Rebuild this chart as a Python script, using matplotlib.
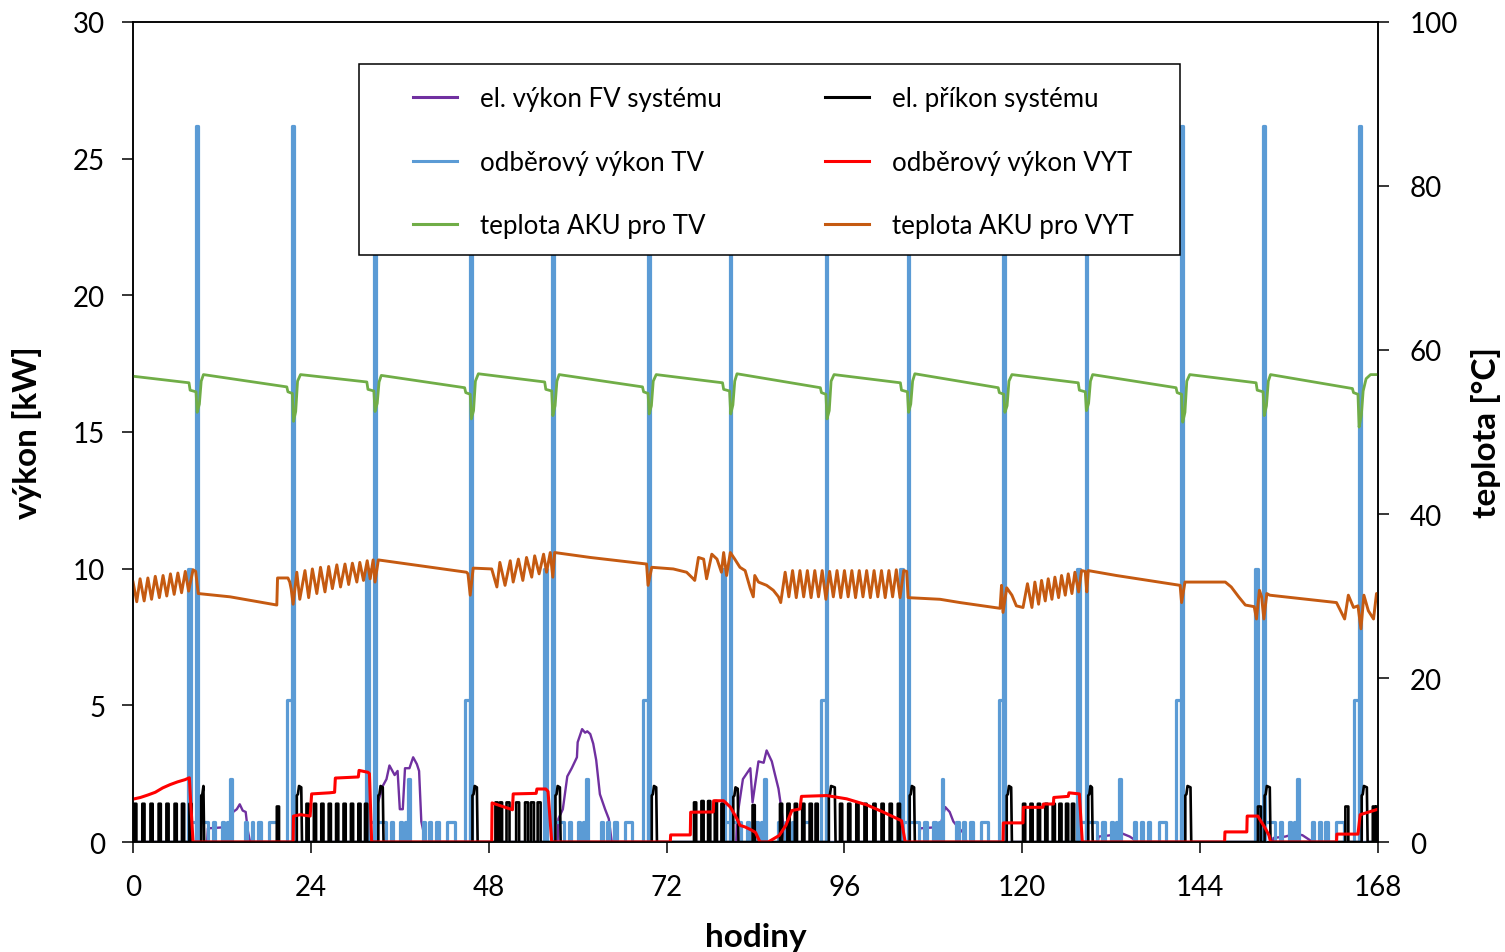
import matplotlib.pyplot as plt
import matplotlib.patches as patches
from matplotlib.lines import Line2D

plt.rcParams['font.family'] = ['Lato', 'DejaVu Sans']

# odberovy vykon TV: (od, do, kW)
tv_draws = [
    (7.45, 7.85, 10.0), (7.85, 8.55, 0.75), (8.55, 8.75, 26.2), (8.75, 10.1, 0.75), (10.8, 11.1, 0.75),
    (12.0, 12.3, 0.75), (12.7, 13.1, 0.75), (13.1, 13.35, 2.3), (15.1, 15.4, 0.75), (16.0, 16.25, 0.75),
    (16.9, 17.3, 0.75), (18.4, 19.4, 0.75), (20.8, 21.45, 5.2), (21.45, 21.7, 26.2),
    (31.45, 31.85, 10.0), (31.85, 32.55, 0.75), (32.55, 32.75, 26.2), (32.75, 34.1, 0.75), (34.8, 35.1, 0.75),
    (36.0, 36.3, 0.75), (36.7, 37.1, 0.75), (37.1, 37.35, 2.3), (39.1, 39.4, 0.75), (40.0, 40.25, 0.75),
    (40.9, 41.3, 0.75), (42.4, 43.4, 0.75), (44.8, 45.45, 5.2), (45.45, 45.7, 26.2),
    (55.45, 55.85, 10.0), (55.85, 56.55, 0.75), (56.55, 56.75, 26.2), (56.75, 58.1, 0.75), (58.8, 59.1, 0.75),
    (60.0, 60.3, 0.75), (60.7, 61.1, 0.75), (61.1, 61.35, 2.3), (63.1, 63.4, 0.75), (64.0, 64.25, 0.75),
    (64.9, 65.3, 0.75), (66.4, 67.4, 0.75), (68.8, 69.45, 5.2), (69.45, 69.7, 26.2),
    (79.45, 79.85, 10.0), (79.85, 80.55, 0.75), (80.55, 80.75, 26.2), (80.75, 82.1, 0.75), (82.8, 83.1, 0.75),
    (84.0, 84.3, 0.75), (84.7, 85.1, 0.75), (85.1, 85.35, 2.3), (87.1, 87.4, 0.75), (88.0, 88.25, 0.75),
    (88.9, 89.3, 0.75), (90.4, 91.4, 0.75), (92.8, 93.45, 5.2), (93.45, 93.7, 26.2),
    (103.45, 103.85, 10.0), (103.85, 104.55, 0.75), (104.55, 104.75, 26.2), (104.75, 106.1, 0.75), (106.8, 107.1, 0.75),
    (108.0, 108.3, 0.75), (108.7, 109.1, 0.75), (109.1, 109.35, 2.3), (111.1, 111.4, 0.75), (112.0, 112.25, 0.75),
    (112.9, 113.3, 0.75), (114.4, 115.4, 0.75), (116.8, 117.45, 5.2), (117.45, 117.7, 26.2),
    (127.45, 127.85, 10.0), (127.85, 128.55, 0.75), (128.55, 128.75, 26.2), (128.75, 130.1, 0.75), (130.8, 131.1, 0.75),
    (132.0, 132.3, 0.75), (132.7, 133.1, 0.75), (133.1, 133.35, 2.3), (135.1, 135.4, 0.75), (136.0, 136.25, 0.75),
    (136.9, 137.3, 0.75), (138.4, 139.4, 0.75), (140.8, 141.45, 5.2), (141.45, 141.7, 26.2),
    (151.45, 151.85, 10.0), (151.85, 152.55, 0.75), (152.55, 152.75, 26.2), (152.75, 154.1, 0.75), (154.8, 155.1, 0.75),
    (156.0, 156.3, 0.75), (156.7, 157.1, 0.75), (157.1, 157.35, 2.3), (159.1, 159.4, 0.75), (160.0, 160.25, 0.75),
    (160.9, 161.3, 0.75), (162.4, 163.4, 0.75), (164.8, 165.45, 5.2), (165.45, 165.7, 26.2),
]

# el. prikon systemu - behy TC (od, do, kW)
hp_runs = [
    (0.15, 0.45, 1.4), (1.25, 1.55, 1.4), (2.35, 2.65, 1.4), (3.45, 3.75, 1.4), (4.5, 4.8, 1.4),
    (5.6, 5.9, 1.4), (6.6, 6.9, 1.4), (7.6, 7.9, 1.4), (19.4, 19.7, 1.3),
    (23.4, 23.7, 1.4), (24.4, 24.7, 1.4), (25.4, 25.7, 1.4), (26.4, 26.7, 1.4), (27.4, 27.7, 1.4),
    (28.4, 28.7, 1.4), (29.4, 29.7, 1.4), (30.4, 30.7, 1.4), (31.3, 31.6, 1.4),
    (48.9, 49.2, 1.45), (49.5, 49.8, 1.45), (50.4, 50.8, 1.45), (51.7, 52.1, 1.45), (52.9, 53.3, 1.45),
    (53.7, 54.1, 1.45), (54.6, 55.0, 1.45),
    (75.7, 76.0, 1.45), (76.7, 77.0, 1.5), (77.6, 77.9, 1.5), (78.5, 78.8, 1.5), (79.4, 79.7, 1.4),
    (83.6, 83.9, 1.35),
    (87.3, 87.6, 1.4), (88.3, 88.6, 1.4), (89.3, 89.6, 1.4), (90.3, 90.6, 1.4), (91.3, 91.6, 1.4),
    (92.1, 92.4, 1.4),
    (95.4, 95.7, 1.4), (96.5, 96.8, 1.4), (97.6, 97.9, 1.4), (98.7, 99.0, 1.4), (99.9, 100.2, 1.4),
    (101.0, 101.3, 1.4), (102.1, 102.4, 1.4), (103.2, 103.5, 1.4),
    (120.1, 120.4, 1.4), (121.1, 121.4, 1.4), (122.1, 122.4, 1.4), (123.1, 123.4, 1.4), (124.1, 124.4, 1.4),
    (125.0, 125.3, 1.4), (125.9, 126.2, 1.4), (126.7, 127.0, 1.4),
    (151.8, 152.2, 1.3), (163.6, 164.0, 1.3), (167.3, 167.6, 1.3), (167.75, 168.0, 1.3),
]

# el. prikon systemu - ohrev TV (od, do, max kW)
hp_tv_runs = [
    (9.2, 9.6, 2.05), (22.1, 22.8, 2.05), (33.1, 33.8, 2.05), (45.8, 46.5, 2.05), (57.0, 57.7, 2.05),
    (70.0, 70.7, 2.05), (81.0, 81.7, 2.0), (93.9, 94.8, 2.05), (104.8, 105.5, 2.05), (117.9, 118.6, 2.05),
    (128.9, 129.5, 2.05), (142.0, 142.8, 2.05), (152.7, 153.5, 2.05), (165.8, 166.6, 2.05),
]

# odberovy vykon VYT (hodiny, kW)
vyt_h = [0, 1.0, 2.0, 3.0, 4.0, 5.0, 6.0, 7.0, 7.6, 7.75, 8.1,
         21.6, 21.65, 22.6, 23.9, 24.1, 26.5, 27.2, 27.3, 30.4, 30.5, 31.7, 31.9, 32.2,
         48.4, 48.45, 51.2, 51.3, 54.4, 54.5, 55.7, 56.0, 56.5,
         72.5, 72.55, 75.2, 75.25, 78.3, 78.35, 79.7, 80.6, 81.5, 81.9, 82.6, 83.5, 84.0, 84.6,
         85.7, 87.2, 88.1, 88.9, 90.0, 90.2, 93.6, 96.3, 99.0, 101.2, 103.7, 104.2,
         117.4, 117.45, 120.1, 120.15, 122.8, 122.85, 124.2, 124.25, 126.2, 126.3, 127.7, 128.1,
         147.3, 147.35, 150.3, 150.35, 151.8, 152.0, 152.8, 153.3, 153.5,
         162.4, 162.45, 165.3, 165.6, 168.0]
vyt_kw = [1.57, 1.63, 1.72, 1.82, 1.98, 2.1, 2.2, 2.28, 2.35, 1.6, 0,
          0, 0.95, 1.0, 0.95, 1.76, 1.8, 1.82, 2.34, 2.38, 2.62, 2.55, 2.5, 0,
          0, 1.43, 1.18, 1.76, 1.78, 1.94, 1.94, 1.85, 0,
          0, 0.26, 0.26, 1.09, 1.1, 1.51, 1.51, 1.28, 0.85, 0.61, 0.55, 0.43, 0.35, 0,
          0, 0.24, 0.61, 1.15, 1.21, 1.67, 1.7, 1.58, 1.36, 1.1, 0.78, 0,
          0, 0.7, 0.7, 1.27, 1.27, 1.39, 1.39, 1.63, 1.67, 1.8, 1.76, 0,
          0, 0.37, 0.37, 0.95, 0.95, 0.85, 0.5, 0.24, 0,
          0, 0.29, 0.29, 1.0, 1.2]

# el. vykon FV systemu (hodiny, kW)
fv_h = [0, 10.0, 10.1, 12.9, 13.2, 13.5, 14.0, 14.4, 14.8, 15.2, 15.5, 15.8,
        32.9, 33.0, 33.7, 34.2, 34.6, 35.3, 35.7, 36.0, 36.4, 36.7, 37.3, 37.8, 38.3, 38.6, 38.9, 39.1, 39.5,
        57.3, 57.4, 58.0, 58.6, 59.2, 59.9, 60.0, 60.6, 61.0, 61.3, 61.7, 62.1, 62.5, 63.0, 63.7, 64.2, 64.6,
        81.4, 81.5, 82.3, 83.3, 83.6, 84.4, 85.1, 85.5, 86.2, 86.6, 87.1, 87.5, 88.0,
        106.1, 106.2, 108.9, 109.6, 110.2, 110.7, 111.3, 112.0, 112.5,
        130.2, 130.3, 132.0, 132.8, 133.6, 134.5, 135.6,
        153.8, 153.9, 155.5, 156.8, 157.8, 159.2, 168.0]
fv_kw = [0, 0, 0.5, 0.55, 0.6, 1.1, 1.2, 1.38, 1.15, 1.1, 0.4, 0,
         0, 1.4, 2.05, 2.3, 2.8, 2.45, 2.6, 1.2, 1.2, 2.7, 2.7, 3.1, 2.85, 2.6, 0.75, 0.5, 0,
         0, 0.85, 1.2, 2.4, 2.7, 3.1, 3.65, 4.13, 4.0, 4.05, 3.95, 3.6, 3.0, 1.75, 1.2, 0.85, 0,
         0, 0.85, 2.3, 2.7, 1.45, 2.95, 2.9, 3.35, 2.95, 2.5, 1.95, 1.2, 0,
         0, 0.5, 0.55, 1.28, 1.1, 0.75, 0.55, 0.35, 0,
         0, 0.2, 0.25, 0.35, 0.3, 0.2, 0,
         0, 0.15, 0.2, 0.3, 0.25, 0, 0]

# teplota AKU pro TV (hodiny, degC)
aku_tv = [
    (0.0, 56.8),
    (7.55, 56.0), (7.7, 55.1), (8.5, 54.9), (8.65, 52.4), (8.95, 53.4), (9.2, 56.2), (9.5, 57.0),
    (20.75, 55.5), (20.9, 54.9), (21.5, 54.7), (21.65, 51.3), (21.95, 52.5), (22.2, 56.2), (22.6, 57.0),
    (31.55, 56.1), (31.7, 55.2), (32.5, 55.0), (32.65, 52.5), (32.95, 53.5), (33.2, 56.1), (33.5, 56.9),
    (44.75, 55.4), (44.9, 54.8), (45.5, 54.6), (45.65, 51.6), (45.95, 52.6), (46.2, 56.2), (46.6, 57.1),
    (55.55, 56.1), (55.7, 55.2), (56.5, 55.0), (56.65, 52.0), (56.95, 53.2), (57.2, 56.2), (57.5, 57.0),
    (68.75, 55.5), (68.9, 54.9), (69.5, 54.7), (69.65, 52.2), (69.95, 53.2), (70.2, 56.2), (70.6, 57.0),
    (79.55, 56.0), (79.7, 55.2), (80.5, 55.0), (80.65, 52.2), (80.95, 53.3), (81.2, 56.2), (81.5, 57.1),
    (92.75, 55.4), (92.9, 54.8), (93.5, 54.6), (93.65, 51.6), (93.95, 52.6), (94.2, 56.2), (94.6, 57.0),
    (103.55, 56.0), (103.7, 55.1), (104.5, 54.9), (104.65, 52.4), (104.95, 53.4), (105.2, 56.2), (105.5, 57.1),
    (116.75, 55.4), (116.9, 54.8), (117.5, 54.6), (117.65, 52.4), (117.95, 53.2), (118.2, 56.2), (118.6, 57.0),
    (127.55, 56.0), (127.7, 55.1), (128.5, 54.9), (128.65, 52.6), (128.95, 53.5), (129.2, 56.2), (129.5, 57.0),
    (140.75, 55.4), (140.9, 54.8), (141.5, 54.6), (141.65, 51.2), (141.95, 52.4), (142.2, 56.2), (142.6, 57.0),
    (151.55, 56.0), (151.7, 55.1), (152.5, 54.9), (152.65, 52.0), (152.95, 53.2), (153.2, 56.2), (153.5, 57.0),
    (164.55, 55.3), (164.7, 54.8), (165.3, 54.6), (165.45, 50.6), (165.75, 52.0), (166.0, 55.0), (166.4, 56.5),
    (167.0, 57.0), (168.0, 57.0),
]

# teplota AKU pro VYT (hodiny, degC)
aku_vyt = [
    (0.0, 31.7), (0.5, 29.3), (0.95, 32.1), (1.5, 29.4), (2.0, 32.2), (2.5, 29.6), (3.0, 32.4), (3.55, 29.8),
    (4.05, 32.5), (4.55, 30.0), (5.05, 32.7), (5.55, 30.2), (6.05, 32.8), (6.55, 30.4), (7.05, 33.0), (7.5, 30.6),
    (8.1, 33.2), (8.45, 33.0), (8.8, 30.3),
    (13.1, 29.9), (19.4, 28.9), (19.5, 32.2), (20.9, 32.2), (21.15, 31.7), (21.35, 30.8), (21.6, 29.0),
    (22.1, 32.9), (22.5, 29.6), (23.2, 33.1), (23.7, 29.8), (24.2, 33.3), (24.8, 30.3), (25.3, 33.5), (25.9, 30.5),
    (26.4, 33.6), (26.9, 30.9), (27.5, 33.8), (28.0, 31.1), (28.6, 33.9), (29.1, 31.4), (29.6, 34.0), (30.2, 31.7),
    (30.6, 34.1), (31.1, 31.9), (31.6, 34.3), (32.0, 32.1), (32.4, 34.4), (32.65, 31.7), (33.1, 34.4),
    (45.0, 32.9), (45.2, 32.7), (45.5, 30.1), (45.9, 33.4), (48.4, 33.3), (49.1, 31.1),
    (49.5, 34.1), (50.2, 31.3), (50.9, 34.3), (51.3, 31.7), (52.0, 34.5), (52.6, 31.9), (53.1, 34.7), (53.8, 32.3),
    (54.2, 34.9), (54.8, 32.7), (55.4, 35.1), (55.8, 32.9), (56.3, 35.3), (56.65, 32.3), (56.9, 35.3),
    (61.7, 34.7), (69.3, 33.9), (69.5, 31.3), (70.0, 33.5), (72.9, 33.3), (74.7, 32.9), (75.6, 32.1), (75.8, 31.9),
    (76.3, 34.7), (77.0, 34.5), (77.4, 32.1), (78.1, 35.1), (78.8, 34.5), (79.4, 32.9), (79.7, 35.3), (80.1, 32.5),
    (80.6, 35.3), (81.2, 34.5), (81.9, 33.5), (82.6, 33.1), (83.3, 30.9), (83.7, 29.9), (83.9, 32.5), (84.4, 31.7),
    (85.5, 31.3), (86.4, 30.7), (87.1, 29.9), (87.4, 29.2),
    (88.0, 32.9), (88.5, 29.9), (89.0, 33.1), (89.5, 29.8), (90.0, 33.1), (90.5, 29.9), (91.0, 33.1), (91.5, 29.8),
    (92.0, 33.1), (92.5, 29.9), (93.0, 33.1), (93.5, 29.6), (94.0, 33.0), (94.5, 29.9), (95.0, 33.1), (95.5, 29.8),
    (96.0, 33.1), (96.5, 29.9), (97.0, 33.1), (97.5, 29.8), (98.0, 33.1), (98.5, 29.9), (99.0, 33.1), (99.5, 29.8),
    (100.0, 33.1), (100.5, 29.9), (101.0, 33.1), (101.5, 29.8), (102.0, 33.1), (102.5, 29.9), (103.0, 33.2),
    (103.5, 29.8), (104.0, 33.1), (104.4, 33.0), (104.6, 29.8),
    (108.9, 29.6), (111.6, 29.2), (117.0, 28.5), (117.2, 31.3), (117.4, 28.0), (117.9, 31.0), (118.6, 30.1),
    (119.2, 28.8), (120.1, 28.6),
    (120.7, 31.5), (121.3, 28.6), (121.7, 31.7), (122.2, 29.0), (122.6, 31.9), (123.1, 29.4), (123.5, 32.1),
    (124.0, 29.6), (124.4, 32.3), (124.9, 29.8), (125.3, 32.5), (125.8, 30.1), (126.2, 32.7), (126.7, 30.3),
    (127.1, 32.9), (127.6, 30.5), (128.0, 33.1), (128.5, 33.0), (128.7, 30.5), (128.9, 33.1),
    (132.7, 32.5), (141.3, 31.3), (141.5, 29.2), (141.95, 31.7), (147.4, 31.7), (148.2, 31.1), (149.2, 29.9),
    (150.1, 28.9), (151.3, 28.7), (151.6, 27.2), (152.0, 30.7), (152.3, 29.9), (152.6, 27.2), (153.0, 30.3),
    (153.4, 30.1), (162.4, 29.2), (163.5, 27.2), (164.0, 30.1), (164.7, 28.6), (165.3, 28.8), (165.7, 26.0),
    (166.1, 30.1), (166.7, 28.2), (167.4, 27.2), (167.8, 30.3), (168.0, 30.3),
]

labels = ['el. výkon FV systému', 'odběrový výkon TV', 'teplota AKU pro TV',
          'el. příkon systému', 'odběrový výkon VYT', 'teplota AKU pro VYT']


def step_pulses(runs):
    xs, ys = [0.0], [0.0]
    for s, e, v in runs:
        xs += [s, s, e, e]
        ys += [0.0, v, v, 0.0]
    xs.append(168.0)
    ys.append(0.0)
    return xs, ys


def black_line(runs, tv_runs):
    events = [(s, e, v, 'run') for s, e, v in runs] + [(s, e, v, 'tv') for s, e, v in tv_runs]
    events.sort()
    xs, ys = [0.0], [0.0]
    for s, e, v, kind in events:
        if kind == 'run':
            xs += [s, s, e, e]
            ys += [0.0, v, v, 0.0]
        else:
            xs += [s, s, s + 0.15, s + 0.3, e - 0.1, e]
            ys += [0.0, v - 0.35, v - 0.3, v, v - 0.05, 0.0]
    xs.append(168.0)
    ys.append(0.0)
    return xs, ys


fig = plt.figure(figsize=(15.05, 9.53), dpi=100)
ax = fig.add_axes([0.0884, 0.1154, 0.8272, 0.8605])
ax2 = ax.twinx()

tv_x, tv_y = step_pulses(tv_draws)
bl_x, bl_y = black_line(hp_runs, hp_tv_runs)

l_fv, = ax.plot(fv_h, fv_kw, color='#7030A0', lw=1.7, zorder=2)
l_tv, = ax.plot(tv_x, tv_y, color='#5B9BD5', lw=2.3, zorder=3)
l_el, = ax.plot(bl_x, bl_y, color='black', lw=1.9, zorder=4)
l_vyt, = ax.plot(vyt_h, vyt_kw, color='#FF0000', lw=2.2, zorder=5)

l_akutv, = ax2.plot([p[0] for p in aku_tv], [p[1] for p in aku_tv], color='#70AD47', lw=2.0)
l_akuvyt, = ax2.plot([p[0] for p in aku_vyt], [p[1] for p in aku_vyt], color='#C55A11', lw=2.1)

ax.set_xlim(0, 168)
ax.set_ylim(0, 30)
ax2.set_ylim(0, 100)
ax.set_xticks(range(0, 169, 24))
ax.set_yticks(range(0, 31, 5))
ax2.set_yticks(range(0, 101, 20))

for a in (ax, ax2):
    for sp in a.spines.values():
        sp.set_linewidth(1.1)
ax.tick_params(axis='both', direction='out', length=8, width=1.1, labelsize=20)
ax.tick_params(axis='x', pad=15)
ax.tick_params(axis='y', pad=12)
ax2.tick_params(axis='y', direction='out', length=8, width=1.1, labelsize=20, pad=15)

ax.set_xlabel('hodiny', fontsize=24, fontweight='bold', labelpad=16)
ax.set_ylabel('výkon [kW]', fontsize=24, fontweight='bold', labelpad=22)
ax2.set_ylabel('teplota [°C]', fontsize=24, fontweight='bold', labelpad=9)

# ramecek legendy
box = patches.Rectangle((0.1815, 0.7159), 0.6595, 0.2329, transform=ax2.transAxes,
                        facecolor='white', edgecolor='black', lw=1.1, zorder=5)
ax2.add_patch(box)

handles = [l_fv, l_tv, l_akutv, l_el, l_vyt, l_akuvyt]
leg_kw = dict(loc='upper left', fontsize=18.6, frameon=False, borderpad=0, borderaxespad=0,
              labelspacing=1.5, handlelength=1.7, handletextpad=0.9)
leg1 = ax2.legend([Line2D([], [], color=h.get_color(), lw=2.2) for h in handles[:3]], labels[:3],
                  bbox_to_anchor=(0.2249, 0.922), **leg_kw)
leg1.set_zorder(6)
ax2.add_artist(leg1)
leg2 = ax2.legend([Line2D([], [], color=h.get_color(), lw=2.2) for h in handles[3:]], labels[3:],
                  bbox_to_anchor=(0.5558, 0.922), **leg_kw)
leg2.set_zorder(6)

fig.savefig('out.png', dpi=100)
